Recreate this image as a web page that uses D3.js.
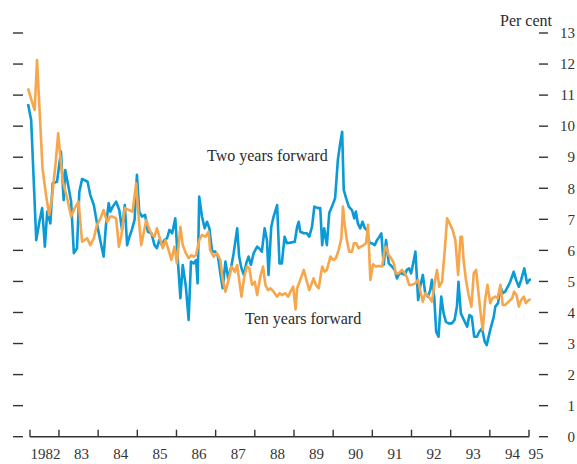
<!DOCTYPE html>
<html>
<head>
<meta charset="utf-8">
<script src="https://cdn.jsdelivr.net/npm/d3@7"></script>
<style>
  body { margin: 0; background: #fff; }
  svg { display: block; font-family: "Liberation Serif", "Times New Roman", serif; }
  .tick-label { font-size: 15px; fill: #333; }
  .note { font-size: 16px; fill: #2b2b2b; }
</style>
</head>
<body>
<div id="chart"></div>
<script>
// Two years forward rate, per cent (decimal year, value)
var twoYearDates = [1982.21,1982.29,1982.42,1982.50,1982.57,1982.64,1982.70,1982.78,1982.84,1982.95,
  1983.05,1983.12,1983.16,1983.25,1983.31,1983.38,1983.46,1983.52,1983.59,1983.73,1983.80,1983.89,
  1984.00,1984.07,1984.14,1984.20,1984.27,1984.31,1984.37,1984.46,1984.54,1984.61,1984.68,1984.74,
  1984.80,1984.86,1984.93,1984.99,1985.05,1985.12,1985.20,1985.27,1985.36,1985.44,1985.50,1985.56,
  1985.63,1985.69,1985.76,1985.82,1985.89,1985.97,1986.04,1986.10,1986.16,1986.24,1986.31,1986.37,
  1986.44,1986.50,1986.54,1986.58,1986.65,1986.72,1986.78,1986.84,1986.91,1986.99,1987.06,1987.12,
  1987.18,1987.25,1987.32,1987.40,1987.46,1987.55,1987.60,1987.66,1987.72,1987.78,1987.84,1987.90,
  1987.97,1988.06,1988.11,1988.18,1988.25,1988.31,1988.35,1988.42,1988.48,1988.57,1988.63,1988.69,
  1988.76,1988.82,1988.91,1989.02,1989.08,1989.12,1989.16,1989.25,1989.33,1989.39,1989.46,1989.52,
  1989.61,1989.67,1989.72,1989.77,1989.84,1989.90,1989.97,1990.05,1990.12,1990.18,1990.23,1990.27,
  1990.33,1990.40,1990.48,1990.54,1990.58,1990.63,1990.69,1990.75,1990.81,1990.86,1990.93,1990.99,
  1991.06,1991.12,1991.18,1991.23,1991.29,1991.35,1991.42,1991.50,1991.57,1991.63,1991.69,1991.76,
  1991.83,1991.88,1991.94,1991.99,1992.06,1992.10,1992.17,1992.22,1992.29,1992.35,1992.42,1992.48,
  1992.52,1992.58,1992.63,1992.69,1992.76,1992.82,1992.88,1992.95,1993.03,1993.10,1993.16,1993.20,
  1993.26,1993.33,1993.42,1993.48,1993.54,1993.60,1993.67,1993.73,1993.80,1993.87,1993.92,1994.01,
  1994.10,1994.14,1994.21,1994.27,1994.33,1994.39,1994.46,1994.52,1994.61,1994.67,1994.74,1994.80,
  1994.88,1994.95,1995.01,1995.05];
var twoYearValues = [10.71,10.20,6.33,6.92,7.36,6.12,7.25,6.87,8.16,8.21,
  9.18,7.62,8.59,8.00,7.57,5.91,6.07,7.89,8.30,8.21,7.78,7.46,
  6.66,6.23,5.80,6.82,7.52,7.25,7.40,7.57,7.30,6.66,7.46,6.17,
  6.44,6.66,6.98,8.43,7.25,7.09,7.14,6.60,6.55,6.17,6.07,6.33,
  6.17,6.33,6.39,6.66,6.55,7.03,5.58,4.46,5.53,4.83,3.76,5.64,
  5.58,5.69,4.94,7.73,7.10,6.71,6.92,6.71,5.96,5.96,5.80,5.26,
  4.78,5.64,5.10,5.48,5.91,6.71,5.80,5.42,5.21,5.58,5.80,5.53,
  5.91,6.12,6.07,5.96,6.71,6.33,5.21,6.76,7.09,7.46,5.58,5.58,
  6.44,6.23,6.25,6.28,6.76,6.92,6.60,6.55,6.55,6.44,6.76,7.41,
  7.36,7.36,6.17,6.71,6.17,7.20,7.41,7.68,8.91,9.45,9.82,7.95,
  7.68,7.41,7.30,7.03,7.25,6.87,6.71,6.92,6.71,6.66,6.23,6.23,
  6.17,6.33,6.44,6.55,5.53,6.33,5.58,5.48,5.37,5.10,5.26,5.26,
  5.21,5.37,5.42,5.26,5.69,5.96,4.40,4.83,5.21,4.62,4.51,4.72,
  5.05,4.51,3.38,3.22,4.51,3.97,3.70,3.65,3.65,3.76,4.19,4.99,
  3.97,3.78,3.54,3.92,3.86,3.22,3.22,3.38,3.49,3.06,2.95,3.44,
  3.86,4.19,4.30,4.83,4.62,4.67,4.83,4.99,5.31,5.05,4.83,5.05,
  5.42,4.94,5.05,5.07];

// Ten years forward rate, per cent
var tenYearDates = [1982.21,1982.31,1982.38,1982.44,1982.52,1982.58,1982.67,1982.75,1982.82,1982.91,
  1982.98,1983.03,1983.10,1983.21,1983.31,1983.40,1983.50,1983.59,1983.72,1983.80,1983.89,1983.97,
  1984.06,1984.14,1984.23,1984.31,1984.37,1984.46,1984.53,1984.59,1984.68,1984.78,1984.88,1984.97,
  1985.04,1985.10,1985.16,1985.23,1985.31,1985.38,1985.44,1985.50,1985.59,1985.65,1985.72,1985.80,
  1985.87,1985.95,1986.01,1986.10,1986.16,1986.24,1986.31,1986.38,1986.44,1986.50,1986.58,1986.65,
  1986.74,1986.82,1986.86,1986.95,1987.03,1987.12,1987.18,1987.25,1987.33,1987.41,1987.49,1987.55,
  1987.60,1987.66,1987.73,1987.80,1987.86,1987.93,1988.00,1988.06,1988.14,1988.21,1988.27,1988.34,
  1988.40,1988.48,1988.57,1988.63,1988.69,1988.78,1988.85,1988.91,1988.98,1989.04,1989.08,1989.16,
  1989.25,1989.33,1989.39,1989.44,1989.50,1989.56,1989.63,1989.72,1989.78,1989.84,1989.93,1990.01,
  1990.07,1990.14,1990.21,1990.25,1990.29,1990.35,1990.41,1990.48,1990.53,1990.59,1990.65,1990.71,
  1990.78,1990.84,1990.89,1990.95,1991.02,1991.09,1991.17,1991.25,1991.32,1991.35,1991.42,1991.48,
  1991.55,1991.60,1991.67,1991.76,1991.83,1991.88,1991.94,1992.01,1992.10,1992.17,1992.22,1992.29,
  1992.35,1992.44,1992.52,1992.59,1992.65,1992.71,1992.78,1992.85,1992.91,1992.99,1993.05,1993.12,
  1993.19,1993.25,1993.29,1993.33,1993.39,1993.46,1993.53,1993.59,1993.65,1993.72,1993.78,1993.82,
  1993.88,1993.94,1994.01,1994.07,1994.14,1994.20,1994.27,1994.33,1994.39,1994.48,1994.57,1994.62,
  1994.68,1994.74,1994.80,1994.87,1994.92,1994.99,1995.04];
var tenYearValues = [11.22,10.79,10.52,12.13,10.15,8.64,7.78,7.14,7.68,8.75,
  9.77,9.07,8.21,7.68,7.09,7.36,7.57,6.28,6.39,6.17,6.39,6.82,
  7.03,7.30,6.92,7.09,7.09,7.03,6.12,6.44,7.36,7.30,7.25,8.16,
  6.98,6.17,6.55,6.98,6.66,6.50,6.44,6.71,6.33,6.07,6.33,6.01,
  5.69,6.12,5.58,6.76,6.17,5.91,5.75,5.85,5.80,5.85,6.33,6.50,
  6.44,6.60,6.01,5.80,5.91,5.69,5.05,4.67,5.05,5.48,5.31,5.53,
  5.05,4.51,5.15,5.48,5.42,4.89,4.99,4.56,5.15,5.48,4.89,4.72,
  4.78,4.67,4.51,4.62,4.56,4.62,4.51,4.67,4.83,4.10,4.78,5.05,
  5.37,4.99,4.72,4.89,5.10,4.89,4.78,5.48,5.31,5.37,5.80,5.69,
  5.75,6.01,6.39,7.41,6.87,6.33,5.96,5.96,6.23,6.23,6.07,6.12,
  6.17,6.23,6.82,5.05,5.55,5.48,5.50,5.48,6.07,6.12,5.85,5.75,
  5.58,5.26,5.26,5.37,5.26,5.15,4.89,4.89,4.94,5.05,4.72,4.35,
  4.62,4.51,4.35,4.94,5.37,4.83,4.99,6.01,7.03,6.82,6.66,6.33,
  5.21,6.44,6.44,5.69,5.05,4.56,4.19,5.26,5.37,4.51,3.81,3.44,
  4.40,4.89,4.30,4.46,4.51,4.46,4.89,4.24,4.24,4.35,4.46,4.67,
  4.56,4.19,4.40,4.51,4.30,4.40,4.43];

var yTicks = d3.range(0, 14);
var yearTicks = d3.range(1983, 1996);
var yearLabels = ["1982","83","84","85","86","87","88","89","90","91","92","93","94","95"];
var axisStart = 1982.26, axisEnd = 1995;

var width = 577, height = 464;
var x = d3.scaleLinear().domain([1982, 1995]).range([19.8, 529]);
var y = d3.scaleLinear().domain([0, 13]).range([436.7, 33]);

var svg = d3.select('#chart').append('svg')
  .attr('width', width)
  .attr('height', height);

// horizontal tick marks on both sides
var ticks = svg.append('g').attr('stroke', '#333').attr('stroke-width', 1.4);
ticks.selectAll('.lt').data(yTicks).enter().append('line')
  .attr('x1', 13).attr('x2', 23)
  .attr('y1', d => y(d)).attr('y2', d => y(d));
ticks.selectAll('.rt').data(yTicks).enter().append('line')
  .attr('x1', 539).attr('x2', 548)
  .attr('y1', d => y(d)).attr('y2', d => y(d));

svg.selectAll('.ylab').data(yTicks).enter().append('text')
  .attr('class', 'tick-label')
  .attr('x', 575)
  .attr('y', d => y(d))
  .attr('dy', '0.35em')
  .attr('text-anchor', 'end')
  .text(d => d);

svg.append('text')
  .attr('class', 'note')
  .attr('x', 552).attr('y', 26)
  .attr('text-anchor', 'end')
  .text('Per cent');

// x axis
var xg = svg.append('g').attr('stroke', '#333').attr('stroke-width', 1.4);
xg.append('line')
  .attr('x1', x(axisStart)).attr('x2', x(axisEnd))
  .attr('y1', y(0)).attr('y2', y(0));
xg.selectAll('.xt').data([axisStart].concat(yearTicks)).enter().append('line')
  .attr('x1', d => x(d)).attr('x2', d => x(d))
  .attr('y1', y(0)).attr('y2', y(0) - 7);

svg.selectAll('.xlab').data(yearLabels).enter().append('text')
  .attr('class', 'tick-label')
  .attr('text-anchor', 'middle')
  .attr('x', (d, i) => {
    if (i === 0) return (x(axisStart) + x(1983)) / 2 + 1;
    if (i === yearLabels.length - 1) return x(1995) + 7;
    return x(1982 + i + 0.5) + 3;
  })
  .attr('y', 459)
  .text(d => d);

// series
var line = d3.line()
  .x(d => x(d[0]))
  .y(d => y(d[1]));

var twoYear = d3.zip(twoYearDates, twoYearValues);
var tenYear = d3.zip(tenYearDates, tenYearValues);

svg.append('path')
  .datum(twoYear)
  .attr('fill', 'none')
  .attr('stroke', '#0a9ad6')
  .attr('stroke-width', 2.6)
  .attr('stroke-linejoin', 'round')
  .attr('d', line);

svg.append('path')
  .datum(tenYear)
  .attr('fill', 'none')
  .attr('stroke', '#f7a64c')
  .attr('stroke-width', 2.6)
  .attr('stroke-linejoin', 'round')
  .attr('d', line);

// series labels
svg.append('text')
  .attr('class', 'note')
  .attr('x', x(1986.78)).attr('y', y(8.88))
  .text('Two years forward');

svg.append('text')
  .attr('class', 'note')
  .attr('x', x(1987.75)).attr('y', y(3.63))
  .text('Ten years forward');
</script>
</body>
</html>
